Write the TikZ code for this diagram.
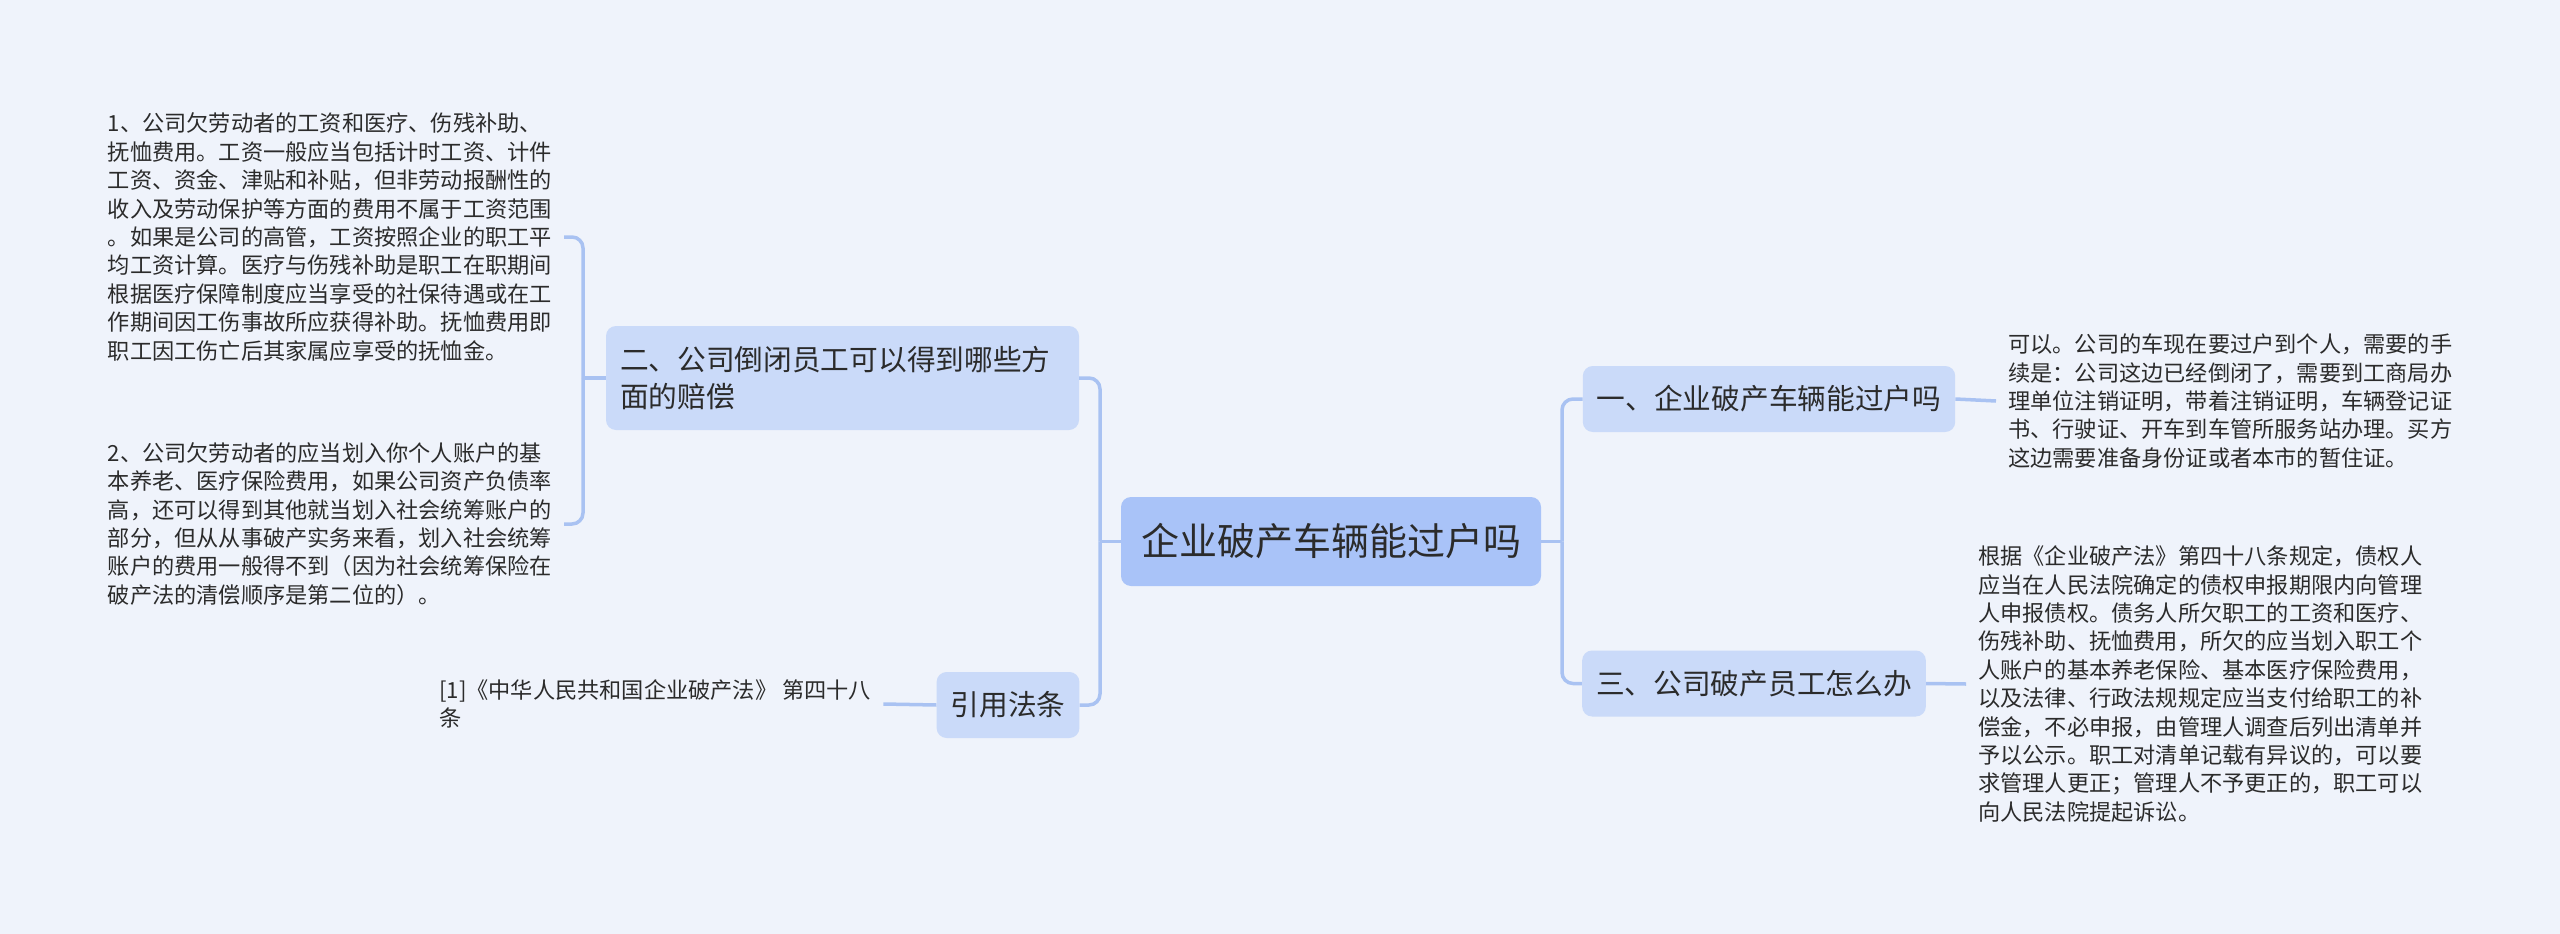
\documentclass[tikz,border=0pt]{standalone}
\usepackage{fontspec}
\setmainfont{Noto Sans CJK SC}
\definecolor{bgcol}{HTML}{EFF3FB}
\definecolor{rootfill}{HTML}{A9C3F8}
\definecolor{topicfill}{HTML}{CADAF9}
\definecolor{linkcol}{HTML}{A9C2F2}
\definecolor{textcol}{HTML}{2B2B2B}

\begin{document}
\begin{tikzpicture}[x=1pt,y=-1pt,
  root/.style={fill=rootfill,rounded corners=10pt,minimum width=420pt,minimum height=89pt,
    font=\fontsize{38}{46}\selectfont,text=textcol},
  topic/.style={fill=topicfill,rounded corners=10pt,inner xsep=14pt,minimum height=66pt,
    font=\fontsize{28.7}{36.7}\selectfont,text=textcol},
  leaf/.style={inner xsep=12pt,inner ysep=0pt,align=left,
    font=\fontsize{22.2}{28.4}\selectfont,text=textcol},
  link/.style={draw=linkcol,line width=3.5pt,rounded corners=11pt}]
\fill[bgcol] (0,0) rectangle (2560,934);
\useasboundingbox (0,0) rectangle (2560,934);

% centre and main topics
\node[root] (root) at (1331,541.5) {企业破产车辆能过户吗};
\node[topic,minimum width=372pt] (car) at (1769,399) {一、企业破产车辆能过户吗};
\node[topic,minimum width=342pt] (staff) at (1754,683.5) {三、公司破产员工怎么办};
\node[topic,minimum height=104pt,text width=445pt,align=left] (comp) at (842.5,378)
  {二、公司倒闭员工可以得到哪些方\\面的赔偿};
\node[topic,minimum width=142pt] (law) at (1008,705) {引用法条};

% details
\node[leaf,anchor=west] (carnote) at (1996,401)
  {可以。公司的车现在要过户到个人，需要的手\\续是：公司这边已经倒闭了，需要到工商局办\\理单位注销证明，带着注销证明，车辆登记证\\书、行驶证、开车到车管所服务站办理。买方\\这边需要准备身份证或者本市的暂住证。};
\node[leaf,anchor=west] (staffnote) at (1966,684)
  {根据《企业破产法》第四十八条规定，债权人\\应当在人民法院确定的债权申报期限内向管理\\人申报债权。债务人所欠职工的工资和医疗、\\伤残补助、抚恤费用，所欠的应当划入职工个\\人账户的基本养老保险、基本医疗保险费用，\\以及法律、行政法规规定应当支付给职工的补\\偿金，不必申报，由管理人调查后列出清单并\\予以公示。职工对清单记载有异议的，可以要\\求管理人更正；管理人不予更正的，职工可以\\向人民法院提起诉讼。};
\node[leaf,anchor=east] (wage) at (564,237)
  {1、公司欠劳动者的工资和医疗、伤残补助、\\抚恤费用。工资一般应当包括计时工资、计件\\工资、资金、津贴和补贴，但非劳动报酬性的\\收入及劳动保护等方面的费用不属于工资范围\\。如果是公司的高管，工资按照企业的职工平\\均工资计算。医疗与伤残补助是职工在职期间\\根据医疗保障制度应当享受的社保待遇或在工\\作期间因工伤事故所应获得补助。抚恤费用即\\职工因工伤亡后其家属应享受的抚恤金。};
\node[leaf,anchor=east] (fund) at (564,524)
  {2、公司欠劳动者的应当划入你个人账户的基\\本养老、医疗保险费用，如果公司资产负债率\\高，还可以得到其他就当划入社会统筹账户的\\部分，但从从事破产实务来看，划入社会统筹\\账户的费用一般得不到（因为社会统筹保险在\\破产法的清偿顺序是第二位的）。};
\node[leaf,anchor=west] (lawnote) at (427,704)
  {[1]《中华人民共和国企业破产法》 第四十八\\条};

% connectors
\coordinate (rjoin) at (1562,541.5);
\coordinate (ljoin) at (1100,541.5);
\coordinate (cjoin) at (583,378);
\draw[link] (root.east) -- (rjoin);
\draw[link] (rjoin) |- (car.west);
\draw[link] (rjoin) |- (staff.west);
\draw[link] (root.west) -- (ljoin);
\draw[link] (ljoin) |- (comp.east);
\draw[link] (ljoin) |- (law.east);
\draw[link] (car.east) -- (carnote.west);
\draw[link] (staff.east) -- (staffnote.west);
\draw[link] (law.west) -- (lawnote.east);
\draw[link] (comp.west) -- (cjoin);
\draw[link] (cjoin) |- (wage.east);
\draw[link] (cjoin) |- (fund.east);
\end{tikzpicture}
\end{document}
